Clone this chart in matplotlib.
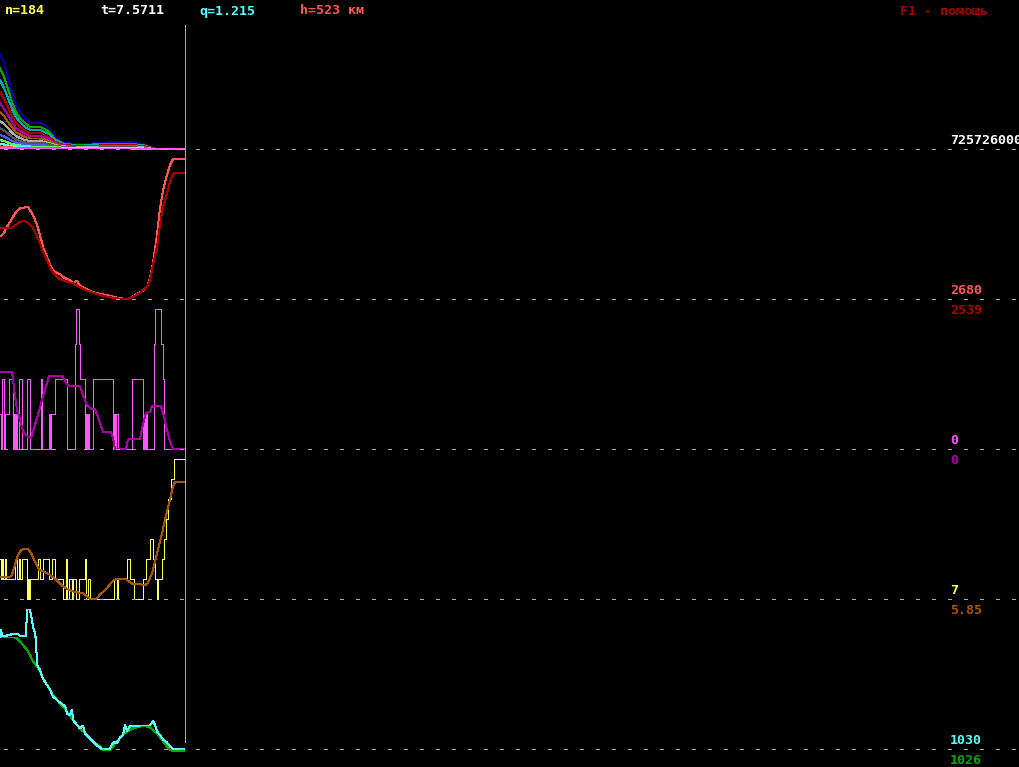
import numpy as np
import matplotlib.pyplot as plt

plt.rcParams['lines.scale_dashes'] = False
plt.rcParams['lines.antialiased'] = False
plt.rcParams['font.family'] = ['DejaVu Sans Mono']

W, H = 1020, 767
n = 184

# header values
t_val = "7.5711"
q_val = "1.215"
h_val = "523"
total_label = "725726000"

# panel 1: spectrum lines (EGA colours)
spec_x = [0, 4, 8, 12, 16, 20, 25, 30, 35, 40, 45, 50, 55, 60, 65, 75, 85, 100, 115, 130, 143, 150, 156, 184]
spec_blue = [95, 86, 72, 56, 44, 37, 31, 26, 26, 26, 24, 19, 12, 8, 6, 5, 5, 6, 7, 7, 5, 2, 0, 0]
spec_green = [81, 72, 60, 47, 37, 31, 26, 22, 22, 22, 20, 16, 10, 7, 5, 4, 4, 5, 5, 5, 4, 1.5, 0, 0]
spec_cyan = [69, 61, 51, 40, 32, 27, 22, 19, 19, 19, 17, 14, 9, 6, 4.5, 3.5, 3.5, 4, 4.5, 4.5, 3.5, 1, 0, 0]
spec_red = [57, 50, 42, 33, 26, 22, 18, 16, 16, 16, 14, 11, 7, 5, 4, 3, 3, 3.5, 4, 4, 3, 1, 0, 0]
spec_magenta = [46, 40, 34, 27, 21, 18, 15, 13, 13, 13, 11.5, 9, 6, 4, 3.5, 2.5, 2.5, 3, 3.5, 3.5, 2.5, 1, 0, 0]
spec_brown = [37, 33, 27, 22, 17, 14.5, 12, 10.5, 10.5, 10.5, 9.5, 7.5, 5, 3.5, 3, 2, 2, 2.5, 3, 3, 2, 0.5, 0, 0]
spec_lgray = [28, 25, 21, 16.5, 13, 11, 9, 8, 8, 8, 7, 5.5, 4, 3, 2.5, 2, 2, 2, 2.5, 2.5, 1.5, 0.5, 0, 0]
spec_dgray = [21, 18.5, 15.5, 12, 9.5, 8, 6.5, 6, 6, 6, 5.5, 4.5, 3, 2.5, 2, 1.5, 1.5, 1.5, 2, 2, 1, 0, 0, 0]
spec_lblue = [14, 12.5, 10.5, 8, 6.5, 5.5, 4.5, 4, 4, 4, 3.5, 3, 2.5, 2, 1.5, 1.5, 1.5, 1.5, 1.5, 1.5, 1, 0, 0, 0]
spec_lgreen = [9, 8, 6.5, 5, 4, 3.5, 3, 2.5, 2.5, 2.5, 2.5, 2, 2, 1.5, 1.5, 1, 1, 1, 1, 1, 0.5, 0, 0, 0]
spec_lcyan = [5, 4.5, 3.5, 3, 2.5, 2, 2, 1.5, 1.5, 1.5, 1.5, 1.5, 1, 1, 1, 1, 1, 1, 1, 1, 0.5, 0, 0, 0]
spec_lred = [2.5, 2, 2, 1.5, 1.5, 1.5, 1, 1, 1, 1, 1, 1, 1, 0.5, 0.5, 0.5, 0.5, 0.5, 0.5, 0.5, 0, 0, 0, 0]
spec_lmag = [1, 1, 1, 1, 0.5, 0.5, 0.5, 0.5, 0.5, 0.5, 0.5, 0.5, 0.5, 0.5, 0.5, 0.5, 0.5, 0.5, 0.5, 0.5, 0, 0, 0, 0]
spec_series = [
    (spec_blue, '#0000AA'), (spec_green, '#00AA00'), (spec_cyan, '#00AAAA'),
    (spec_red, '#AA0000'), (spec_magenta, '#AA00AA'), (spec_brown, '#AA5500'),
    (spec_lgray, '#AAAAAA'), (spec_dgray, '#555555'), (spec_lblue, '#5555FF'),
    (spec_lgreen, '#55FF55'), (spec_lcyan, '#55FFFF'), (spec_lred, '#FF5555'),
    (spec_lmag, '#FF55FF'),
]

# panel 2: red pair
red1_x = [1, 4, 6, 10, 14, 17, 20, 25, 28, 30, 33, 37, 40, 43, 47, 50, 53, 57, 60, 63, 67, 70, 73, 77, 80,
          87, 93, 100, 107, 113, 120, 127, 130, 137, 143, 147, 150, 153, 157, 160, 163, 167, 170, 173, 184]
red1_v = [1904, 1932, 1982, 2045, 2116, 2156, 2183, 2193, 2199, 2166, 2116, 2015, 1914, 1794, 1693, 1612,
          1552, 1532, 1522, 1492, 1471, 1461, 1428, 1454, 1401, 1368, 1340, 1320, 1310, 1293, 1277, 1270,
          1283, 1320, 1354, 1394, 1478, 1630, 1914, 2183, 2368, 2519, 2619, 2680, 2680]
red2_x = [1, 10, 13, 17, 20, 25, 28, 33, 37, 40, 43, 47, 50, 53, 57, 60, 67, 73, 80, 87, 93, 100, 107, 113,
          120, 127, 133, 140, 147, 150, 153, 157, 160, 163, 167, 170, 173, 175, 184]
red2_v = [1982, 1982, 1998, 2025, 2048, 2055, 2038, 1982, 1904, 1831, 1746, 1663, 1589, 1535, 1495, 1468,
          1444, 1428, 1388, 1354, 1333, 1310, 1293, 1283, 1273, 1270, 1293, 1333, 1394, 1461, 1612, 1797,
          2015, 2199, 2334, 2451, 2529, 2539, 2539]

# panel 3: magenta steps + purple average
mag_x = [0, 1, 2, 4, 5, 9, 13, 14, 15, 16, 17, 19, 22, 27, 30, 41, 42, 49, 50, 51, 55, 67, 75, 76, 79, 80,
         85, 86, 87, 88, 89, 93, 113, 114, 115, 116, 118, 132, 143, 144, 145, 146, 147, 154, 155, 161, 163,
         164, 184]
mag_v = [1, 0, 2, 0, 1, 2, 0, 1, 0, 1, 0, 2, 0, 2, 0, 2, 0, 1, 0, 1, 2, 0, 3, 4, 3, 2,
         0, 1, 0, 1, 0, 2, 0, 1, 0, 1, 0, 2, 0, 1, 0, 1, 0, 3, 4, 3, 2,
         0, 0]
pur_x = [0, 12, 13, 15, 17, 20, 23, 27, 31, 34, 38, 42, 45, 49, 55, 62, 64, 68, 80, 83, 87, 92, 95, 99, 103,
         111, 113, 115, 126, 128, 133, 140, 143, 146, 150, 152, 161, 164, 167, 170, 173, 184]
pur_v = [2.2, 2.2, 2.0, 1.5, 1.12, 0.84, 0.5, 0.36, 0.31, 0.6, 0.98, 1.4, 1.7, 2.08, 2.08, 2.08, 2.0, 1.81,
         1.81, 1.55, 1.24, 1.14, 1.14, 0.84, 0.48, 0.48, 0.31, 0, 0, 0.27, 0.29, 0.29, 0.7, 1.03, 1.07, 1.22,
         1.22, 0.93, 0.55, 0.22, 0, 0]

# panel 4: yellow integer steps + orange average
yel_x = [0, 1, 2, 3, 5, 6, 15, 17, 19, 20, 22, 27, 28, 29, 30, 38, 40, 43, 49, 52, 55, 63, 66, 67, 69, 72,
         73, 76, 79, 85, 86, 88, 90, 114, 117, 118, 127, 130, 134, 143, 146, 150, 153, 155, 157, 158, 162,
         164, 166, 168, 171, 174, 184]
yel_v = [2, 1, 2, 1, 2, 1, 2, 1, 2, 1, 2, 0, 1, 0, 1, 2, 1, 2, 1, 2, 1, 0, 2, 0, 1, 0,
         1, 0, 1, 2, 0, 1, 0, 1, 0, 1, 2, 1, 0, 1, 2, 3, 2, 1, 0, 1, 2,
         3, 4, 5, 6, 7, 7]
ora_x = [0, 10, 12, 14, 17, 20, 23, 28, 31, 35, 39, 43, 47, 52, 57, 63, 70, 77, 83, 87, 90, 96, 100, 107,
         113, 117, 126, 130, 133, 140, 145, 148, 152, 155, 158, 161, 164, 167, 170, 173, 175, 184]
ora_v = [1.1, 1.1, 1.22, 1.55, 2.05, 2.38, 2.5, 2.5, 2.3, 1.88, 1.47, 1.38, 1.3, 1.13, 0.93, 0.63, 0.43,
         0.33, 0.3, 0.13, 0, 0, 0.22, 0.55, 0.92, 1.0, 1.0, 0.83, 0.75, 0.75, 0.68, 0.8, 1.3, 1.88, 2.47,
         3.05, 3.72, 4.38, 4.97, 5.63, 5.85, 5.85]

# panel 5: cyan raw + green smoothed
cy_x = [0, 1, 2, 3, 15, 17, 20, 26, 27, 30, 31, 32, 33, 35, 36, 37, 38, 40, 43, 47, 50, 53, 57, 60, 63, 65,
        67, 70, 72, 73, 77, 80, 83, 85, 88, 93, 97, 102, 110, 112, 115, 117, 120, 123, 125, 127, 130, 140,
        150, 153, 155, 157, 160, 163, 167, 170, 173, 184]
cy_v = [1255, 1269, 1255, 1255, 1261, 1261, 1256, 1256, 1309, 1309, 1298, 1288, 1275, 1261, 1247, 1198,
        1195, 1188, 1171, 1158, 1149, 1135, 1128, 1123, 1118, 1116, 1101, 1098, 1109, 1088, 1078, 1071,
        1077, 1061, 1055, 1045, 1037, 1030, 1030, 1039, 1045, 1041, 1053, 1058, 1078, 1065, 1076, 1077,
        1077, 1086, 1078, 1065, 1058, 1049, 1043, 1035, 1030, 1030]
gr_x = [0, 15, 17, 20, 23, 27, 30, 33, 37, 40, 43, 47, 50, 53, 57, 60, 67, 73, 80, 87, 93, 100, 103, 110,
        113, 117, 120, 127, 133, 140, 147, 150, 153, 157, 160, 163, 167, 170, 174, 184]
gr_v = [1253, 1253, 1251, 1245, 1238, 1228, 1218, 1205, 1195, 1185, 1171, 1158, 1148, 1138, 1129, 1121,
        1105, 1088, 1071, 1058, 1045, 1035, 1028, 1028, 1035, 1045, 1053, 1065, 1071, 1075, 1075, 1073,
        1068, 1061, 1053, 1045, 1035, 1028, 1026, 1026]

fig = plt.figure(figsize=(W / 100, H / 100), dpi=100, facecolor='black')


def panel(top, bottom, ymin, ymax):
    ax = fig.add_axes([0, 1 - bottom / H, 1, (bottom - top) / H])
    ax.set_xlim(0, W)
    ax.set_ylim(ymin, ymax)
    ax.patch.set_alpha(0)
    ax.axis('off')
    return ax


dash = (0, (2.88, 8.64))
lw = 0.72
grid_kw = dict(colors='#AAAAAA', lw=lw, linestyles=[dash], antialiased=False, clip_on=False)

ax1 = panel(0, 149, 0, 149)
for vals, col in spec_series:
    ax1.plot(spec_x, vals, color=col, lw=lw, clip_on=False)
ax1.hlines(0, 4, W, **grid_kw)

ax2 = panel(149, 299, 1270, 1270 + 150 * 1410 / 140)
ax2.plot(red1_x, red1_v, color='#FF5555', lw=lw, clip_on=False)
ax2.plot(red2_x, red2_v, color='#AA0000', lw=lw, clip_on=False)
ax2.hlines(1270, 4, W, **grid_kw)

ax3 = panel(299, 449, 0, 150 / 35)
ax3.plot(mag_x, mag_v, color='#FF55FF', lw=lw, drawstyle='steps-post', clip_on=False)
ax3.plot(pur_x, pur_v, color='#AA00AA', lw=lw, clip_on=False)
ax3.hlines(0, 4, W, **grid_kw)

ax4 = panel(449, 599, 0, 7.5)
ax4.plot(yel_x, yel_v, color='#FFFF55', lw=lw, drawstyle='steps-post', clip_on=False)
ax4.plot(ora_x, ora_v, color='#AA5500', lw=lw, clip_on=False)
ax4.hlines(0, 4, W, **grid_kw)

ax5 = panel(599, 749, 1030, 1330)
ax5.plot(gr_x, gr_v, color='#00AA00', lw=lw, clip_on=False)
ax5.plot(cy_x, cy_v, color='#55FFFF', lw=lw, clip_on=False)
ax5.hlines(1030, 4, W, **grid_kw)

# overlay in pixel coordinates for cursor and text
ov = fig.add_axes([0, 0, 1, 1])
ov.set_xlim(0, W)
ov.set_ylim(H, 0)
ov.patch.set_alpha(0)
ov.axis('off')
ov.vlines(n + 1, 25, 742, colors='#AAAAAA', lw=lw, antialiased=False)

fs = 9.6
kw = dict(fontsize=fs, fontweight='bold', va='center', ha='left')
ov.text(5, 11, f"n={n}", color='#FFFF55', **kw)
ov.text(100, 11, f"t={t_val}", color='#FFFFFF', **kw)
ov.text(199, 11, f"q={q_val}", color='#55FFFF', **kw)
ov.text(300, 11, f"h={h_val} км", color='#FF5555', **kw)
ov.text(900, 11, "F1 - помощь", color='#AA0000', **kw)

labels = [
    (140.5, total_label, '#FFFFFF'),
    (290.5, f"{red1_v[-1]}", '#FF5555'),
    (310.5, f"{red2_v[-1]}", '#AA0000'),
    (441, f"{mag_v[-1]}", '#FF55FF'),
    (461, f"{int(pur_v[-1])}", '#AA00AA'),
    (591, f"{yel_v[-1]}", '#FFFF55'),
    (611, f"{ora_v[-1]}", '#AA5500'),
    (740.5, f"{cy_v[-1]}", '#55FFFF'),
    (760.5, f"{gr_v[-1]}", '#00AA00'),
]
for y, txt, col in labels:
    ov.text(950, y, txt, color=col, **kw)

fig.savefig('out.png', dpi=100, facecolor='black')
